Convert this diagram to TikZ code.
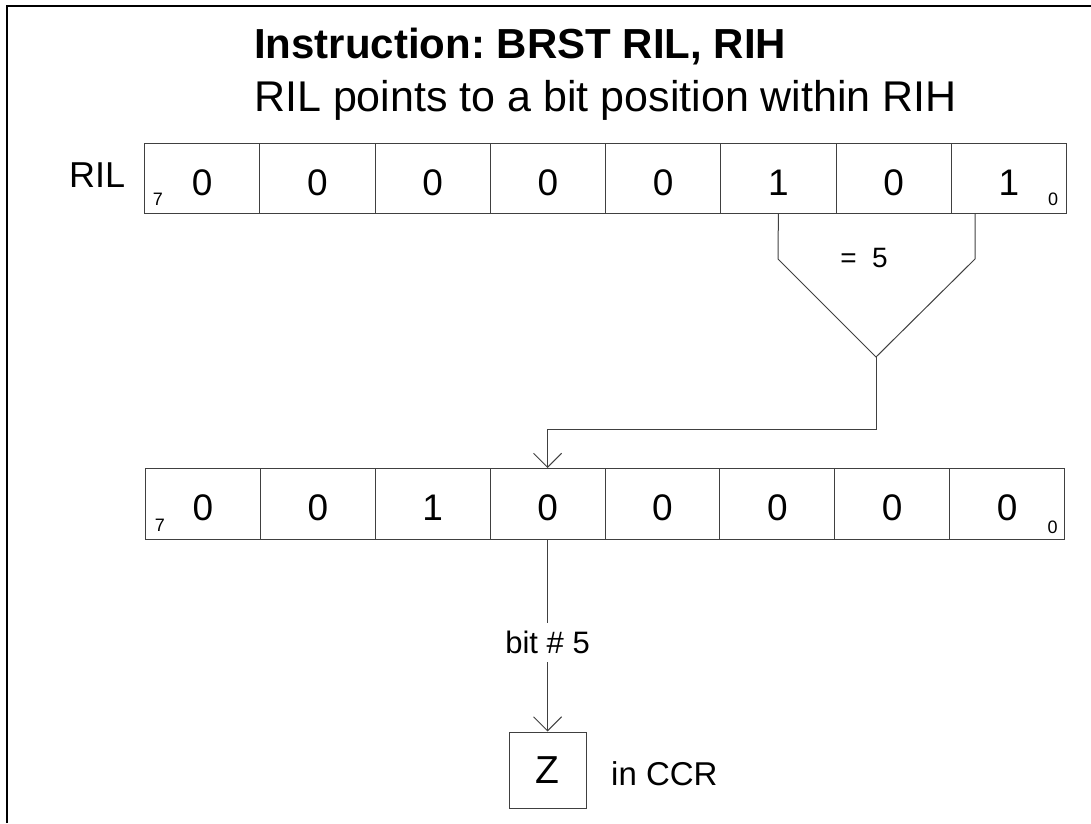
\documentclass[tikz,border=0pt]{standalone}
\usepackage{fontspec}
\setmainfont{Liberation Sans}
\usetikzlibrary{arrows.meta}
\definecolor{linegray}{gray}{0.25}
\frenchspacing
\begin{document}
\begin{tikzpicture}[x=1pt,y=-1pt,
  cellbox/.style={draw=linegray, line width=1pt, inner sep=0pt, anchor=north west,
    text height=33.4pt, text depth=0pt, font=\fontsize{37}{42}\selectfont},
  idx/.style={inner sep=0pt, font=\fontsize{18}{20}\selectfont},
  conn/.style={draw=linegray, line width=1pt},
  barb/.style={-{Straight Barb[length=14pt,width=28pt]}},
  txt/.style={inner sep=0pt}]
\useasboundingbox (0,0) rectangle (1091,823);
% frame (left and top edges visible)
\draw[line width=2pt] (7,823) -- (7,6) -- (1091,6);
% titles
\node[txt, anchor=base west, font=\bfseries\fontsize{42}{48}\selectfont] (title) at (254,58) {Instruction: BRST RIL, RIH};
\node[txt, anchor=base west, font=\fontsize{43}{48}\selectfont] (subtitle) at (254,111) {RIL points to a bit position within RIH};
% RIL register
\node[txt, anchor=base west, font=\fontsize{36}{40}\selectfont] (rillabel) at (69,187) {RIL};
\foreach \v [count=\i from 0] in {0,0,0,0,0,1,0,1}
  \node[cellbox, minimum width=115.25pt, minimum height=70pt] (a\i) at (144+115.25*\i,143) {\v};
\node[idx] (a7idx) at (158,199.5) {7};
\node[idx] (a0idx) at (1053,199.5) {0};
% RIH register
\foreach \v [count=\i from 0] in {0,0,1,0,0,0,0,0}
  \node[cellbox, minimum width=114.875pt, minimum height=71pt] (b\i) at (145+114.875*\i,468) {\v};
\node[idx] (b7idx) at (160,525.5) {7};
\node[idx] (b0idx) at (1052.5,527.5) {0};
% funnel
\coordinate (fr0) at (975,213);
\coordinate (fl) at (778,259);
\coordinate (fr) at (975,259);
\coordinate (fa) at (876,357);
\coordinate (bend) at (876,429);
\draw[conn] (a5.south) -- (fl) -- (fa) -- (fr) -- (fr0);
\node[txt, font=\fontsize{28}{32}\selectfont] (eq) at (864,258) {= \ 5};
\draw[conn, barb] (fa) -- (bend) -| (b3.north);
% Z flag
\node[draw=linegray, line width=1pt, minimum width=77pt, minimum height=76pt, inner sep=0pt,
  font=\fontsize{39}{44}\selectfont] (z) at (b3.south |- 0,770) {Z};
\draw[conn, barb] (b3.south) -- node[pos=0.534, fill=white, inner xsep=2pt, inner ysep=8pt,
  font=\fontsize{31}{36}\selectfont] (bitlbl) {bit \# 5} (z.north);
\node[txt, anchor=base west, font=\fontsize{33}{38}\selectfont] (ccr) at (611,785) {in CCR};
\end{tikzpicture}
\end{document}
